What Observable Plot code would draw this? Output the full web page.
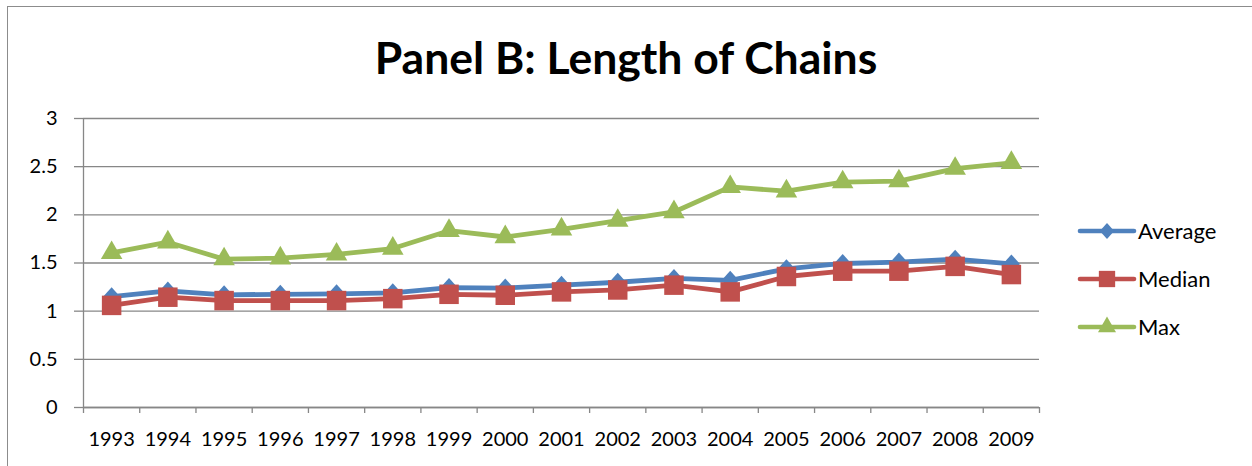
<!DOCTYPE html>
<html>
<head>
<meta charset="utf-8">
<script src="https://cdn.jsdelivr.net/npm/d3@7"></script>
<script src="https://cdn.jsdelivr.net/npm/@observablehq/plot@0.6"></script>
<style>
  html, body { margin: 0; padding: 0; background: #fff; }
  #wrap { position: relative; width: 1252px; height: 466px; overflow: hidden; background: #fff; font-family: Lato, "Open Sans", sans-serif; }
  #frame { position: absolute; left: 7px; top: 6px; width: 1300px; height: 520px; border: 1.5px solid #8c8c8c; box-sizing: border-box; pointer-events: none; }
  #title { position: relative; height: 100px; width: 1252px; text-align: center; font-weight: 700; color: #000; }
  #title span { position: absolute; left: 0; right: 0; top: 30px; line-height: 1; white-space: nowrap; }
  #chart svg { display: block; }
  #legend { position: absolute; left: 1077px; top: 0; }
  .item { position: absolute; left: 0; width: 170px; height: 30px; }
  .item svg { position: absolute; left: 0; top: 0; }
  .item .lab { position: absolute; left: 61px; top: 0; height: 30px; line-height: 30px; font-size: 22px; color: #000; white-space: nowrap; }
</style>
</head>
<body>
<div id="wrap">
  <div id="title"><span>Panel B: Length of Chains</span></div>
  <div id="chart"></div>
  <div id="legend"></div>
  <div id="frame"></div>
</div>
<script>
const years = [1993,1994,1995,1996,1997,1998,1999,2000,2001,2002,2003,2004,2005,2006,2007,2008,2009];
const average = [1.15,1.21,1.17,1.175,1.18,1.19,1.245,1.24,1.27,1.30,1.34,1.32,1.44,1.495,1.51,1.54,1.49];
const median  = [1.06,1.145,1.11,1.11,1.11,1.13,1.175,1.165,1.20,1.22,1.27,1.20,1.36,1.415,1.415,1.465,1.38];
const maxv    = [1.605,1.716,1.54,1.55,1.59,1.65,1.835,1.77,1.85,1.94,2.03,2.29,2.245,2.34,2.35,2.48,2.54];
const seriesNames = ["Average","Median","Max"];
const seriesColors = ["#4F81BD","#C0504D","#9BBB59"];
const yTicks = [0,0.5,1,1.5,2,2.5,3];

const diamond = {
  draw(ctx, size) {
    const s = Math.sqrt(size / Math.PI);
    ctx.moveTo(0, -s);
    ctx.lineTo(s * 0.9, 0);
    ctx.lineTo(0, s);
    ctx.lineTo(-s * 0.9, 0);
    ctx.closePath();
  }
};
const seriesSymbols = [diamond, "square", "triangle"];
const seriesR = [9.5, 11, 8];
const seriesValues = [average, median, maxv];

const rows = seriesNames.map((name, k) => years.map((year, i) => ({series: name, year, value: seriesValues[k][i]})));
const boundaries = [...years.map(y => y - 0.5), years[years.length - 1] + 0.5];

const gray = "#878787";
const marks = [
  Plot.gridY(yTicks, {stroke: gray, strokeOpacity: 1, strokeWidth: 1.3}),
  Plot.ruleX([boundaries[0]], {stroke: gray, strokeWidth: 1.3}),
  Plot.axisY({ticks: yTicks, tickSize: 9, tickPadding: 17, tickFormat: d => String(d), stroke: gray, strokeWidth: 1.3, fill: "#000", fontSize: 20, label: null}),
  Plot.axisX({ticks: boundaries, tickSize: 6, tickFormat: () => "", stroke: gray, strokeWidth: 1.3, label: null}),
  Plot.axisX({ticks: years, tickSize: 0, tickPadding: 24, tickFormat: d => String(d), fill: "#000", fontSize: 20, label: null}),
  Plot.ruleY([0], {stroke: gray, strokeWidth: 1.3})
];
rows.forEach((data, k) => {
  marks.push(Plot.line(data, {x: "year", y: "value", stroke: seriesColors[k], strokeWidth: 4.8, strokeLinejoin: "round", strokeLinecap: "round"}));
  marks.push(Plot.dot(data, {x: "year", y: "value", symbol: seriesSymbols[k], r: seriesR[k], fill: seriesColors[k], stroke: "none"}));
});

const chart = Plot.plot({
  width: 1252,
  height: 366,
  marginTop: 18,
  marginBottom: 59,
  marginLeft: 83,
  marginRight: 213,
  style: {fontFamily: "Lato, 'Open Sans', sans-serif", background: "transparent", color: "#000"},
  x: {type: "linear", domain: [boundaries[0], boundaries[boundaries.length - 1]], axis: null},
  y: {domain: [0, 3], axis: null},
  marks
});
document.getElementById("chart").appendChild(chart);

// Title: fit to measured width of reference
const tspan = document.querySelector("#title span");
tspan.style.fontSize = "48px";
const probe = document.createElement("span");
probe.style.cssText = "position:absolute;visibility:hidden;white-space:nowrap;font-weight:700;font-family:Lato,'Open Sans',sans-serif;font-size:48px";
probe.textContent = tspan.textContent;
document.body.appendChild(probe);
const w = probe.getBoundingClientRect().width;
probe.remove();
const fs = 48 * 503 / w;
tspan.style.fontSize = fs.toFixed(1) + "px";
tspan.style.top = (79 - 0.98 * fs) + "px";

// Legend
const legend = document.getElementById("legend");
const rowY = [231, 279, 327];
seriesNames.forEach((name, k) => {
  const item = document.createElement("div");
  item.className = "item";
  item.style.top = (rowY[k] - 15) + "px";
  const svg = d3.create("svg").attr("width", 60).attr("height", 30);
  svg.append("line").attr("x1", 3).attr("x2", 57).attr("y1", 15).attr("y2", 15)
    .attr("stroke", seriesColors[k]).attr("stroke-width", 4.6).attr("stroke-linecap", "round");
  const sym = typeof seriesSymbols[k] === "string"
    ? (seriesSymbols[k] === "square" ? d3.symbolSquare : d3.symbolTriangle)
    : seriesSymbols[k];
  svg.append("path").attr("transform", "translate(30,15)")
    .attr("d", d3.symbol(sym, Math.PI * seriesR[k] * seriesR[k] * 0.7)())
    .attr("fill", seriesColors[k]);
  item.appendChild(svg.node());
  const lab = document.createElement("div");
  lab.className = "lab";
  lab.textContent = name;
  item.appendChild(lab);
  legend.appendChild(item);
});
</script>
</body>
</html>
